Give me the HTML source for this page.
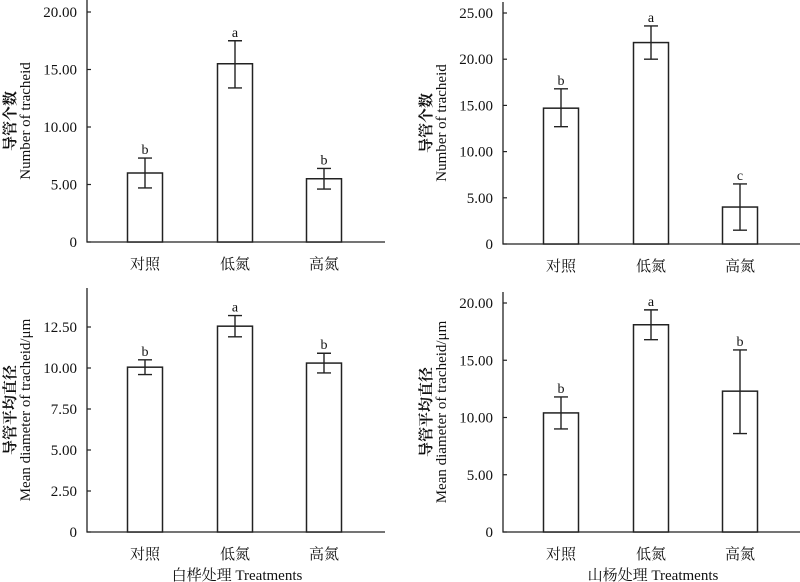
<!DOCTYPE html>
<html><head><meta charset="utf-8"><style>
body{margin:0;background:#fff}
svg{display:block}
text{font-family:"Liberation Serif","Noto Serif CJK SC",serif;fill:#111}
</style></head><body>
<svg id="c" width="800" height="582" viewBox="0 0 800 582"></svg>
<script>
const categories=["对照","低氮","高氮"];
const p1Values=[6.0,15.5,5.5];
const p1Hi=[7.3,17.5,6.4];
const p1Lo=[4.7,13.4,4.6];
const p1Letters=["b","a","b"];
const p1Ticks=[0,5,10,15,20];
const p1TickLabels=["0","5.00","10.00","15.00","20.00"];
const p2Values=[14.7,21.8,4.0];
const p2Hi=[16.8,23.6,6.5];
const p2Lo=[12.7,20.0,1.5];
const p2Letters=["b","a","c"];
const p2Ticks=[0,5,10,15,20,25];
const p2TickLabels=["0","5.00","10.00","15.00","20.00","25.00"];
const p3Values=[10.05,12.55,10.3];
const p3Hi=[10.5,13.2,10.9];
const p3Lo=[9.6,11.9,9.7];
const p3Letters=["b","a","b"];
const p3Ticks=[0,2.5,5,7.5,10,12.5];
const p3TickLabels=["0","2.50","5.00","7.50","10.00","12.50"];
const p4Values=[10.4,18.1,12.3];
const p4Hi=[11.8,19.4,15.9];
const p4Lo=[9.0,16.8,8.6];
const p4Letters=["b","a","b"];
const p4Ticks=[0,5,10,15,20];
const p4TickLabels=["0","5.00","10.00","15.00","20.00"];

const svg=document.getElementById('c');
const NS="http://www.w3.org/2000/svg";
function mk(tag,attrs,parent,txt){const e=document.createElementNS(NS,tag);for(const k in attrs)e.setAttribute(k,attrs[k]);if(txt!==undefined)e.textContent=txt;parent.appendChild(e);return e;}

function panel(o){
  const g=mk('g',{},svg);
  
  
  const y=v=>o.y0-(v/o.max)*(o.y0-o.yTop);
  const xs=[o.x0+58,o.x0+148,o.x0+237];
  const ax=mk('path',{d:`M${o.x0},${o.axTop} V${o.y0} H${o.x0+298}`,stroke:'#222','stroke-width':1.3,fill:'none'},g);
  
  
  o.ticks.forEach((t,i)=>{
    const tk=mk('line',{x1:o.x0,x2:o.x0+4,y1:y(t),y2:y(t),stroke:'#222','stroke-width':1.2},g);
    
    
    const tl=mk('text',{x:o.x0-10,y:y(t)+5,'text-anchor':'end','font-size':15},g,o.tickLabels[i]);
    
    
  });
  o.values.forEach((v,i)=>{
    const cx=xs[i];
    const b=mk('rect',{x:cx-17.5,y:y(v),width:35,height:o.y0-y(v),fill:'#fff',stroke:'#222','stroke-width':1.5},g);
    
    
    const e=mk('path',{d:`M${cx},${y(o.hi[i])} V${y(o.lo[i])} M${cx-7},${y(o.hi[i])} H${cx+7} M${cx-7},${y(o.lo[i])} H${cx+7}`,stroke:'#222','stroke-width':1.4,fill:'none'},g);
    
    
    const l=mk('text',{x:cx,y:y(o.hi[i])-4,'text-anchor':'middle','font-size':14},g,o.letters[i]);
    
    
    const c=mk('text',{x:cx,y:o.y0+27,'text-anchor':'middle','font-size':15},g,categories[i]);
    
    
  });
  const cy=(o.axTop+o.y0)/2;
  const t1=mk('text',{transform:`translate(${o.x0-72},${cy}) rotate(-90)`,'text-anchor':'middle','font-size':15,'font-weight':'bold'},g,o.titleCn);
  
  
  const t2=mk('text',{transform:`translate(${o.x0-57},${cy}) rotate(-90)`,'text-anchor':'middle','font-size':15},g,o.titleEn);
  
  
  if(o.xTitle){
    const xt=mk('text',{x:o.x0+150,y:580,'text-anchor':'middle','font-size':15},g,o.xTitle);
    
    
  }
}
panel({name:'panel-birch-number',x0:87,y0:242,yTop:12,axTop:0,max:20,ticks:p1Ticks,tickLabels:p1TickLabels,values:p1Values,hi:p1Hi,lo:p1Lo,letters:p1Letters,titleCn:'导管个数',titleEn:'Number of tracheid'});
panel({name:'panel-poplar-number',x0:503,y0:244,yTop:13,axTop:2,max:25,ticks:p2Ticks,tickLabels:p2TickLabels,values:p2Values,hi:p2Hi,lo:p2Lo,letters:p2Letters,titleCn:'导管个数',titleEn:'Number of tracheid'});
panel({name:'panel-birch-diameter',x0:87,y0:532,yTop:327,axTop:288,max:12.5,ticks:p3Ticks,tickLabels:p3TickLabels,values:p3Values,hi:p3Hi,lo:p3Lo,letters:p3Letters,titleCn:'导管平均直径',titleEn:'Mean diameter of tracheid/μm',xTitle:'白桦处理 Treatments'});
panel({name:'panel-poplar-diameter',x0:503,y0:532,yTop:303,axTop:292,max:20,ticks:p4Ticks,tickLabels:p4TickLabels,values:p4Values,hi:p4Hi,lo:p4Lo,letters:p4Letters,titleCn:'导管平均直径',titleEn:'Mean diameter of tracheid/μm',xTitle:'山杨处理 Treatments'});
</script>
</body></html>
